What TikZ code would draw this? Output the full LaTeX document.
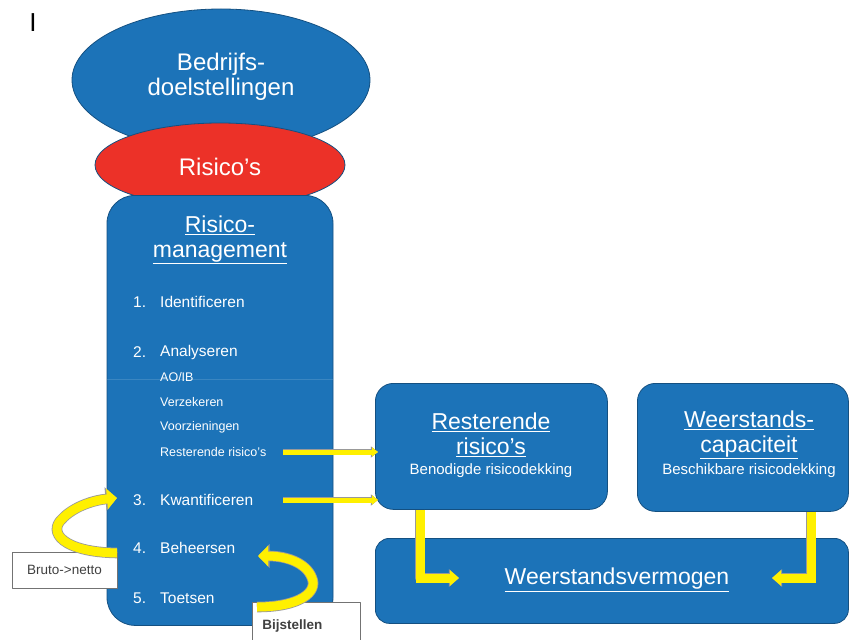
\documentclass[tikz,border=0pt]{standalone}
\usepackage{fontspec}
\setmainfont{Liberation Sans}
\usepackage{xcolor}
\usepackage{tikz}
\usetikzlibrary{arrows.meta,positioning,calc,shapes.geometric}
\definecolor{rmblue}{HTML}{1C73B8}
\definecolor{rmred}{HTML}{EC3128}
\definecolor{rmyellow}{HTML}{FFF000}

\begin{document}
\begin{tikzpicture}[
	x=1pt,
	y=-1pt,
	line join=round,
	blueshape/.style={fill=rmblue, draw=rmblue!70!black, line width=.8pt},
	bigtext/.style={text=white, align=center, inner sep=0pt, font=\fontsize{23}{25}\selectfont},
	subtext/.style={text=white, inner sep=0pt, font=\fontsize{15}{18}\selectfont},
	itemtext/.style={text=white, inner sep=0pt, anchor=west, font=\fontsize{15.5}{18}\selectfont},
	subitem/.style={text=white, inner sep=0pt, anchor=west, font=\fontsize{12.5}{15}\selectfont},
	labelbox/.style={draw=black!55, fill=white, line width=.8pt, text=black!75, font=\fontsize{13.5}{16}\selectfont},
	yarrow/.style={draw=rmyellow, line width=5pt, line join=miter, -{Triangle[length=6pt,width=9pt]},
		preaction={draw=black!40, line width=6.4pt, -{Triangle[length=7.2pt,width=11pt]}}},
	ylarge/.style={draw=rmyellow, line width=9pt, line join=miter, -{Triangle[length=9pt,width=15pt]},
		preaction={draw=black!40, line width=10.4pt, -{Triangle[length=10.2pt,width=17.5pt]}}},
	ycurve/.style={draw=rmyellow, line width=9pt, -{Triangle[length=10pt,width=20pt]},
		preaction={draw=black!40, line width=10.6pt, -{Triangle[length=11.5pt,width=23pt]}}}
	]
	
	\useasboundingbox (0,0) rectangle (850,639);
	
	\node[inner sep=0pt, font=\fontsize{26}{28}\selectfont] (topmark) at (33,23) {I};
	
	%------------------------------
	% Left column: goals, risks, risk management
	%------------------------------
	\node[blueshape, ellipse, inner sep=0pt, minimum width=298, minimum height=142] (goals) at (221,80) {};
	\node[bigtext, font=\fontsize{24}{25}\selectfont] (goalstext) at (221,77) {Bedrijfs-\\doelstellingen};
	
	\node[ellipse, fill=rmred, draw=rmblue!70!black, line width=.8pt, inner sep=0pt,
		minimum width=250, minimum height=84] (risks) at (220,165) {};
	\node[bigtext, font=\fontsize{24}{25}\selectfont] (riskstext) at (220,167) {Risico's};
	
	\node[blueshape, rounded corners=28, minimum width=226, minimum height=430, anchor=north] (rm) at (220,195) {};
	\node[bigtext] (rmtitle) at (220,240) {\underline{Risico-}\\\underline{management}};
	\draw[rmblue!55!white, line width=.5pt, opacity=.3] (rm.west |- 0,379) -- (rm.east |- 0,379);
	
	% Numbered steps
	\foreach \n/\t/\y in {1/Identificeren/302, 2/Analyseren/352, 3/Kwantificeren/500, 4/Beheersen/548, 5/Toetsen/598}{
		\node[itemtext] (num\n) at (133,\y) {\n.};
		\node[itemtext] (step\n) at (160,\y) {\t};
	}
	
	% Sub items of step 2
	\foreach \i/\t/\y in {1/AO\slash IB/377, 2/Verzekeren/402, 3/Voorzieningen/427, 4/Resterende risico's/452}{
		\node[subitem] (sub\i) at (160,\y) {\t};
	}
	
	%------------------------------
	% Right side boxes
	%------------------------------
	\node[blueshape, rounded corners=18, minimum width=232, minimum height=126, anchor=north west] (rest) at (375,383) {};
	\node[bigtext] (resttitle) at (491,435) {\underline{Resterende}\\\underline{risico's}};
	\node[subtext] (restsub) at (491,471) {Benodigde risicodekking};
	
	\node[blueshape, rounded corners=18, minimum width=211, minimum height=128, anchor=north west] (cap) at (637,383) {};
	\node[bigtext] (captitle) at (749,435) {\underline{Weerstands-}\\\underline{capaciteit}};
	\node[subtext] (capsub) at (749,471) {Beschikbare risicodekking};
	
	\node[blueshape, rounded corners=14, minimum width=473, minimum height=85, anchor=north west] (vermogen) at (375,538) {};
	\node[bigtext] (vermogentext) at (617,580) {\underline{Weerstandsvermogen}};
	
	%------------------------------
	% Yellow arrows
	%------------------------------
	\draw[yarrow] (283,0 |- sub4) -- ([xshift=3pt]rest.west |- sub4);
	\draw[yarrow] (283,0 |- step3) -- ([xshift=3pt]rest.west |- step3);
	
	\coordinate (inleft) at (459,578);
	\coordinate (inright) at (772,578);
	\draw[ylarge] (420,0 |- rest.south) -- (420,0 |- inleft) -- (inleft);
	\draw[ylarge] (811,0 |- cap.south) -- (811,0 |- inright) -- (inright);
	
	% Loop labels
	\node[labelbox, minimum width=105, minimum height=36] (brutonetto) at (64.5,570) {Bruto->netto};
	\node[labelbox, anchor=north west, inner xsep=10pt, text width=88pt, minimum height=48, align=left] (bijstellen) at (252,602) {\textbf{Bijstellen}};
	
	\draw[ycurve] (117,553) .. controls (62,552) and (48,532) .. (62,519) .. controls (74,506) and (95,500) .. (117,498);
	\draw[ycurve] (257,607) .. controls (300,607) and (318,592) .. (312,578) .. controls (306,562) and (285,556) .. (258,556);
	
\end{tikzpicture}
\end{document}
